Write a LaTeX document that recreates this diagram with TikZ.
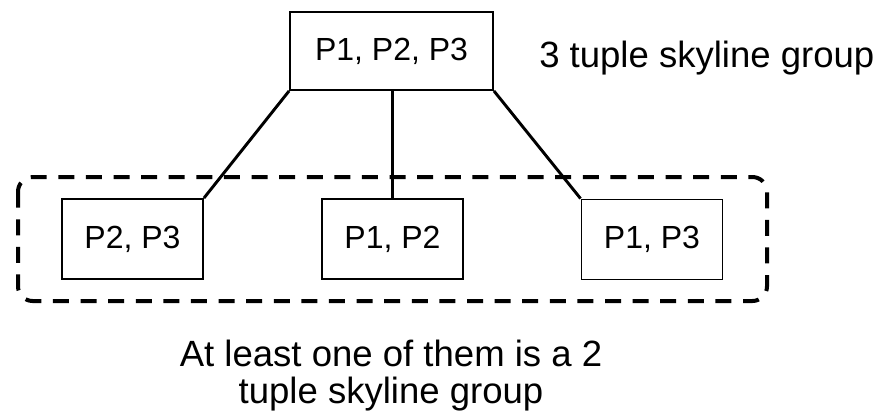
\documentclass[tikz,border=0pt]{standalone}
\usepackage{fontspec}
\setmainfont{Liberation Sans}
\begin{document}
\begin{tikzpicture}[x=0.75pt,y=-0.75pt,
  box/.style={draw=black,line width=1.4pt,inner sep=0pt,font=\fontsize{24}{28}\selectfont},
  bigbox/.style={box,minimum width=152.25pt,minimum height=58.5pt},
  smallbox/.style={box,minimum width=105.75pt,minimum height=60pt},
  conn/.style={line width=2.2pt},
  groupbox/.style={line width=3pt,dash pattern=on 12pt off 8.7pt,rounded corners=11pt},
  lbl/.style={inner sep=0pt,font=\fontsize{27.4}{27.75}\selectfont}]
\useasboundingbox (0,0) rectangle (882,419);
\draw[groupbox] (18,177) rectangle (767,301);
\node[bigbox] (top) at (391.5,51) {P1, P2, P3};
\node[smallbox] (left) at (132.5,239) {P2, P3};
\node[smallbox] (mid) at (392.5,239) {P1, P2};
\node[smallbox] (right) at (652,239.5) {P1, P3};
\draw[conn] (top.south west) -- (left.north east);
\draw[conn] (mid.north) -- (mid.north |- top.south);
\draw[conn] (top.south east) -- (right.north west);
\node[lbl,anchor=base west] (toplbl) at (539,67) {3 tuple skyline group};
\node[lbl,align=center] (botlbl) at (391,376) {At least one of them is a 2\\tuple skyline group};
\end{tikzpicture}
\end{document}
